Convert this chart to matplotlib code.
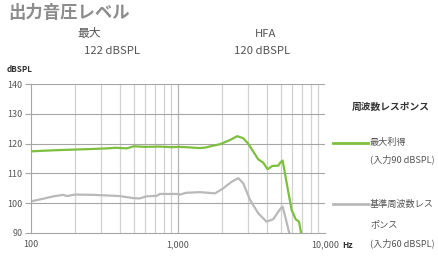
import matplotlib
matplotlib.use("Agg")
import matplotlib.pyplot as plt
from matplotlib.ticker import FixedLocator, NullFormatter

plt.rcParams['font.family'] = ['Noto Sans CJK JP', 'DejaVu Sans']

freq_max = [100, 121, 150, 200, 265, 330, 375, 450, 500, 600, 750, 900, 1000, 1140, 1300, 1413, 1550, 1700, 1932,
            2259, 2531, 2778, 3000, 3252, 3516, 3801, 4071, 4380, 4811, 5000, 5150, 5546, 5932, 6321, 6654, 6936]
gain_max = [117.4, 117.6, 117.8, 118.0, 118.2, 118.4, 118.6, 118.4, 119.1, 118.9, 119.0, 118.8, 118.9, 118.8, 118.6, 118.5, 118.7, 119.2, 119.8,
            121.2, 122.5, 121.8, 120.0, 117.3, 114.7, 113.6, 111.4, 112.5, 112.6, 113.8, 114.3, 105.5, 97.7, 94.6, 93.8, 89.0]

freq_ref = [100, 121, 142, 166, 175, 200, 265, 327, 400, 500, 550, 610, 720, 750, 980, 1030, 1140, 1413, 1786,
            2032, 2318, 2570, 2778, 3090, 3516, 4000, 4440, 5000, 5150, 5400, 5780]
gain_ref = [100.6, 101.5, 102.3, 102.8, 102.4, 102.9, 102.8, 102.6, 102.4, 101.7, 101.6, 102.3, 102.5, 103.1, 103.1, 102.9, 103.5, 103.7, 103.3,
            105.0, 107.2, 108.4, 106.7, 101.1, 96.6, 93.8, 94.6, 98.3, 98.8, 94.9, 89.0]

yticks = [90, 100, 110, 120, 130, 140]
xtick_vals = [100, 1000, 10000]
xtick_labels = ['100', '1,000', '10,000']

green = '#7dbf3f'
gray = '#b9b9bb'
textc = '#555555'

fig = plt.figure(figsize=(4.38, 2.63), dpi=100)
W, H = 438, 263
ax = fig.add_axes([31 / W, 1 - 233 / H, (325 - 31) / W, (233 - 84) / H])
ax.set_xscale('log')
ax.set_xlim(100, 10000)
ax.set_ylim(90, 140)

minor = [m * d for d in (100, 1000) for m in range(2, 10)]
for f in minor:
    ax.axvline(f, color='#d2d2d2', lw=0.9, zorder=1)
ax.axvline(1000, color='#b5b5b5', lw=0.9, zorder=1)
for y in yticks[1:]:
    ax.axhline(y, color='#a6a6a6', lw=0.8, zorder=1)

ax.plot(freq_max, gain_max, color=green, lw=1.6, zorder=3, solid_capstyle='butt')
ax.plot(freq_ref, gain_ref, color=gray, lw=1.6, zorder=2, solid_capstyle='butt')

ax.xaxis.set_major_locator(FixedLocator(xtick_vals))
ax.set_xticklabels(xtick_labels)
ax.xaxis.set_minor_formatter(NullFormatter())
ax.tick_params(axis='x', which='both', length=0, labelsize=6.5, colors=textc, pad=5)
ax.set_yticks(yticks)
ax.tick_params(axis='y', length=4, color='#a6a6a6', labelsize=6.5, colors=textc, pad=2)
for s in ['top', 'right']:
    ax.spines[s].set_visible(False)
ax.spines['left'].set_color('#a6a6a6')
ax.spines['bottom'].set_color('#a6a6a6')
ax.spines['left'].set_linewidth(0.8)
ax.spines['bottom'].set_linewidth(0.8)

def ftxt(x, y, s, **kw):
    fig.text(x / W, 1 - y / H, s, **kw)

ftxt(8, 13, '出力音圧レベル', fontsize=12.5, fontweight='bold', color='#8c8c8c', va='center', ha='left')
ftxt(89, 34, '最大', fontsize=8.5, color=textc, va='center', ha='center')
ftxt(112, 51, '122 dBSPL', fontsize=8.2, color=textc, va='center', ha='center')
ftxt(266, 34, 'HFA', fontsize=8.2, color=textc, va='center', ha='center')
ftxt(262, 51, '120 dBSPL', fontsize=8.2, color=textc, va='center', ha='center')
ftxt(7, 69, 'dBSPL', fontsize=5.8, fontweight='bold', color='#333333', va='center', ha='left')
ftxt(342, 245, 'Hz', fontsize=6, fontweight='bold', color='#333333', va='center', ha='left')

ftxt(352, 107, '周波数レスポンス', fontsize=7, fontweight='bold', color='#333333', va='center', ha='left')
fig.add_artist(plt.Line2D([333 / W, 368 / W], [1 - 143 / H] * 2, color=green, lw=2))
ftxt(370, 142, '最大利得', fontsize=6.6, color=textc, va='center', ha='left')
ftxt(370, 159, '(入力90 dBSPL)', fontsize=6.6, color=textc, va='center', ha='left')
fig.add_artist(plt.Line2D([333 / W, 368 / W], [1 - 204 / H] * 2, color=gray, lw=2))
ftxt(370, 204, '基準周波数レス', fontsize=6.6, color=textc, va='center', ha='left')
ftxt(370, 225, 'ポンス', fontsize=6.6, color=textc, va='center', ha='left')
ftxt(370, 243, '(入力60 dBSPL)', fontsize=6.6, color=textc, va='center', ha='left')

fig.savefig('out.png', dpi=100)
